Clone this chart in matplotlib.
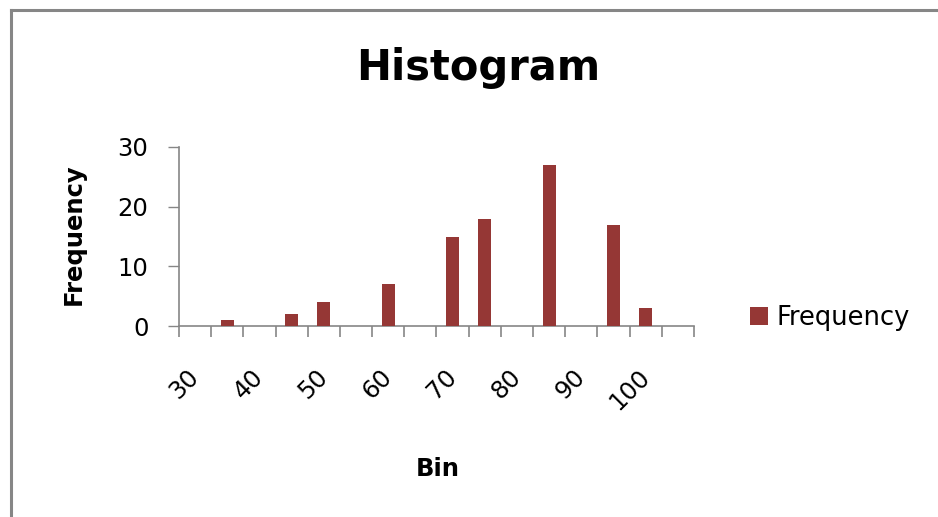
import numpy as np
import matplotlib
matplotlib.use("Agg")
import matplotlib.pyplot as plt
from matplotlib.lines import Line2D

# --- Histogram data (bin upper edges and counts) ---
bins = ['30', '35', '40', '45', '50', '55', '60', '65',
        '70', '75', '80', '85', '90', '95', '100', 'More']
freq = [0, 1, 0, 2, 4, 0, 7, 0, 15, 18, 0, 27, 0, 17, 3, 0]
y_ticks = [0, 10, 20, 30]

bar_color = '#953735'
axis_grey = '#868686'
plt.rcParams['font.family'] = ['DejaVu Sans']

fig = plt.figure(figsize=(9.38, 5.17), dpi=100)
ax = fig.add_axes([0.1908, 0.3694, 0.5491, 0.3463])

x = np.arange(len(bins))
ax.bar(x, freq, width=0.4, color=bar_color, label='Frequency', zorder=3)

ax.set_xlim(-0.5, len(bins) - 0.5)
ax.set_ylim(0, 30)

# tick marks sit on the bin boundaries, labels on every other bin
ax.set_xticks(np.arange(-0.5, len(bins), 1))
ax.set_xticklabels([])
ax.set_xticks(x[::2], minor=True)
ax.set_xticklabels(bins[::2], minor=True, rotation=45, ha='right',
                   va='center', rotation_mode='anchor', fontsize=17.5)
ax.tick_params(axis='x', which='major', length=8, width=1.2, color=axis_grey, direction='out')
ax.tick_params(axis='x', which='minor', length=0, pad=34)

ax.set_yticks(y_ticks)
ax.tick_params(axis='y', length=8, width=1, color=axis_grey, pad=14, labelsize=17.5)

for side in ['top', 'right']:
    ax.spines[side].set_visible(False)
for side in ['left', 'bottom']:
    ax.spines[side].set_color(axis_grey)
    ax.spines[side].set_linewidth(1.2)

fig.text(0.5096, 0.8453, 'Histogram', fontsize=30, fontweight='bold',
         ha='center', va='baseline')
fig.text(0.0864, 0.5474, 'Frequency', fontsize=17.5, fontweight='bold',
         rotation=90, rotation_mode='anchor', ha='center', va='baseline')
fig.text(0.4670, 0.0793, 'Bin', fontsize=17.5, fontweight='bold',
         ha='center', va='baseline')

ax.legend(loc='center left', bbox_to_anchor=(0.800, 0.385),
          bbox_transform=fig.transFigure, frameon=False, fontsize=18.5,
          handlelength=0.7, handleheight=0.7, handletextpad=0.32,
          borderpad=0, borderaxespad=0)

# chart frame: left and top edges only
fig.add_artist(Line2D([0.0112, 0.0112], [0, 0.9797], color=axis_grey, lw=2.2))
fig.add_artist(Line2D([0.0112, 1], [0.9797, 0.9797], color=axis_grey, lw=2.2))

fig.savefig('out.png', dpi=100)
